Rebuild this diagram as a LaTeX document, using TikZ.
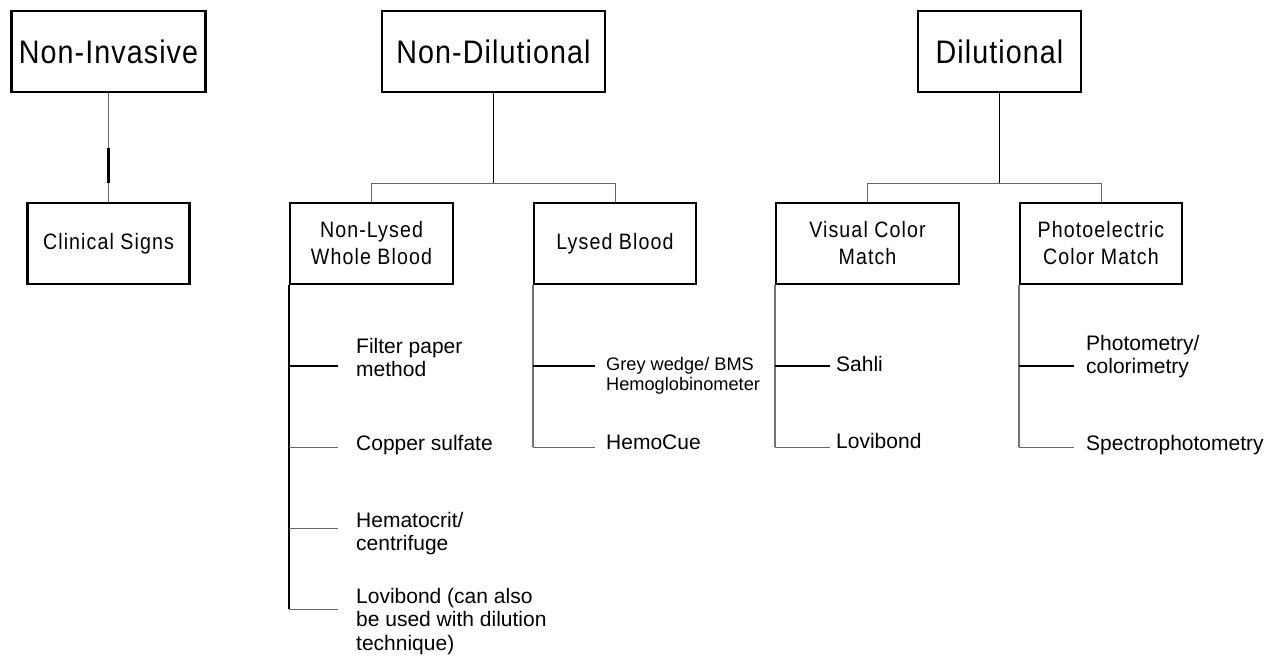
\documentclass[tikz,border=0pt]{standalone}
\usepackage{fontspec}
\setmainfont{Liberation Sans}
\newfontfamily\boxfam[FakeStretch=0.88,LetterSpace=3.3]{Liberation Sans}
\newfontfamily\boxfamsm[FakeStretch=0.88,LetterSpace=4.9]{Liberation Sans}
\newcommand\topfont{\boxfam\fontsize{32.6}{38}\selectfont}
\newcommand\midfont{\boxfamsm\fontsize{22.3}{27}\selectfont}
\newcommand\leaffont{\fontsize{21}{23.5}\selectfont}
\newcommand\smallleaffont{\fontsize{18.2}{20}\selectfont}
\tikzset{
  topbox/.style={draw=black, line width=2.2pt, inner sep=0pt, minimum height=81pt, font=\topfont, align=center},
  midbox/.style={draw=black, line width=2.2pt, inner sep=0pt, minimum height=81pt, font=\midfont, align=center},
  leaf/.style={anchor=north west, inner sep=0pt, font=\leaffont, align=left},
  smallleaf/.style={anchor=north west, inner sep=0pt, font=\smallleaffont, align=left},
  thinline/.style={draw=black!60, line width=1pt},
  stemline/.style={draw=black, line width=1.4pt},
  greystem/.style={draw=black!55, line width=1.4pt},
  mainleaf/.style={draw=black, line width=2pt},
  boldseg/.style={draw=black, line width=2.2pt}
}
\begin{document}
\begin{tikzpicture}[x=1pt,y=-1pt]
\useasboundingbox (0,0) rectangle (1282,656);
% top level
\node[topbox, minimum width=194pt] (ni) at (108.5,51.5) {Non-Invasive};
\node[topbox, minimum width=223pt] (nd) at (493.5,51.5) {Non-Dilutional};
\node[topbox, minimum width=163pt] (di) at (999.5,51.5) {Dilutional};
% second level
\node[midbox, minimum width=162pt] (cs) at (108.5,243.5) {Clinical Signs};
\node[midbox, minimum width=163pt] (nl) at (371.5,243.5) {Non-Lysed\\Whole Blood};
\node[midbox, minimum width=162pt] (lb) at (615,243.5) {Lysed Blood};
\node[midbox, minimum width=183pt] (vc) at (867.5,243.5) {Visual Color\\Match};
\node[midbox, minimum width=162pt] (pc) at (1101,243.5) {Photoelectric\\Color Match};
% Non-Invasive connector
\coordinate (nis1) at (108.5,148);
\coordinate (nis2) at (108.5,183);
\draw[thinline] (ni.south) -- (cs.north);
\draw[boldseg] (nis1) -- (nis2);
% Non-Dilutional connector
\coordinate (ndj) at (493.5,183);
\draw[stemline] (nd.south) -- (ndj);
\draw[thinline] (nl.north) -- (nl.north |- ndj) -- (lb.north |- ndj) -- (lb.north);
% Dilutional connector
\coordinate (dij) at (999.5,183);
\draw[stemline] (di.south) -- (dij);
\draw[thinline] (vc.north) -- (vc.north |- dij) -- (pc.north |- dij) -- (pc.north);
% leaves text
\node[leaf] (t1) at (356,338) {Filter paper\\method};
\node[leaf] (t2) at (356,435) {Copper sulfate};
\node[leaf] (t3) at (356,512) {Hematocrit/\\centrifuge};
\node[leaf] (t4) at (356,588) {Lovibond (can also\\be used with dilution\\technique)};
\node[smallleaf] (t5) at (606,357) {Grey wedge/ BMS\\Hemoglobinometer};
\node[leaf] (t6) at (606,435) {HemoCue};
\node[leaf] (t7) at (836,356) {Sahli};
\node[leaf] (t8) at (836,433) {Lovibond};
\node[leaf] (t9) at (1086,335) {Photometry/\\colorimetry};
\node[leaf] (t10) at (1086,435) {Spectrophotometry};
% leaf line ends
\coordinate (e1) at (338,366);
\coordinate (e2) at (338,447);
\coordinate (e3) at (338,528);
\coordinate (e4) at (338,609);
\coordinate (e5) at (595,366);
\coordinate (e6) at (595,447);
\coordinate (e7) at (830,366);
\coordinate (e8) at (830,447);
\coordinate (e9) at (1074,366);
\coordinate (e10) at (1074,447);
% Non-Lysed leaves
\draw[stemline] (nl.south west) -- (nl.south west |- e4);
\draw[mainleaf] (nl.south west |- e1) -- (e1);
\draw[thinline] (nl.south west |- e2) -- (e2);
\draw[thinline] (nl.south west |- e3) -- (e3);
\draw[thinline] (nl.south west |- e4) -- (e4);
% Lysed leaves
\draw[greystem] (lb.south west) -- (lb.south west |- e6);
\draw[mainleaf] (lb.south west |- e5) -- (e5);
\draw[thinline] (lb.south west |- e6) -- (e6);
% Visual leaves
\draw[greystem] (vc.south west) -- (vc.south west |- e8);
\draw[mainleaf] (vc.south west |- e7) -- (e7);
\draw[thinline] (vc.south west |- e8) -- (e8);
% Photoelectric leaves
\draw[greystem] (pc.south west) -- (pc.south west |- e10);
\draw[mainleaf] (pc.south west |- e9) -- (e9);
\draw[thinline] (pc.south west |- e10) -- (e10);
\end{tikzpicture}
\end{document}
